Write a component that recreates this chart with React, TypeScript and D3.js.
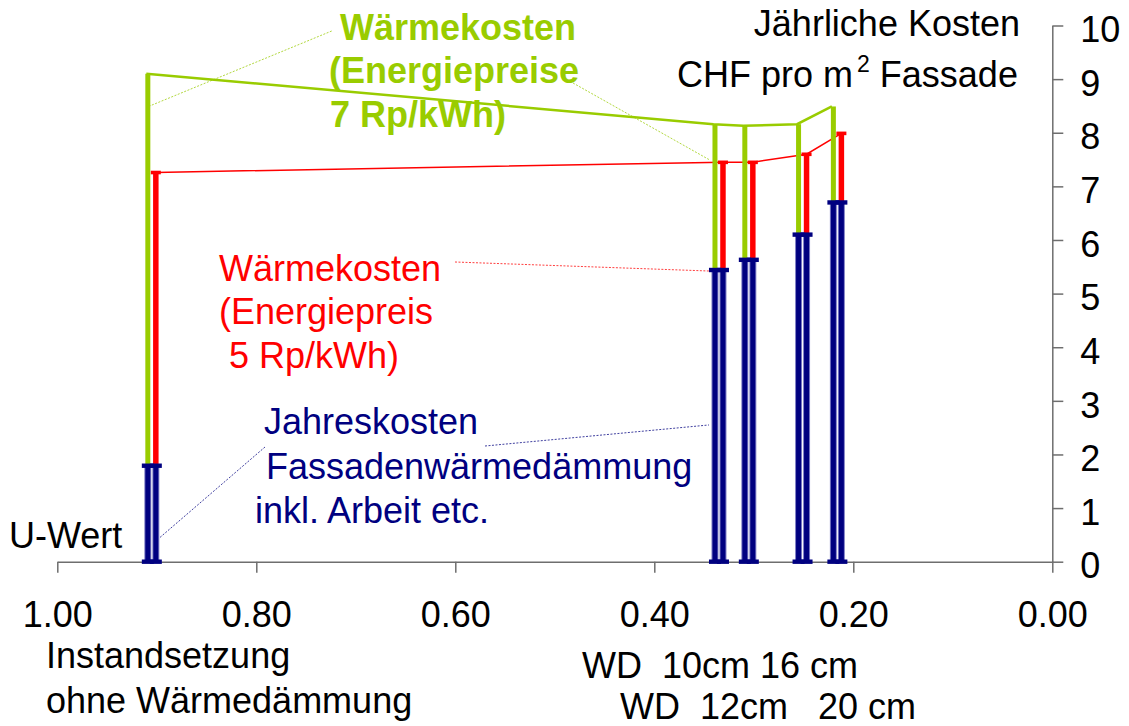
import React, { useEffect, useRef } from 'react';
import * as d3 from 'd3';

// U-Wert (W/m2K) der Varianten
const uValues = [0.905, 0.335, 0.305, 0.251, 0.216];
// Jahreskosten Fassadenwärmedämmung (CHF/m2)
const insulationCost = [1.79, 5.44, 5.63, 6.1, 6.7];
// Gesamtkosten inkl. Wärmekosten 5 Rp/kWh
const total5Rp = [7.26, 7.45, 7.45, 7.6, 7.99];
// Gesamtkosten inkl. Wärmekosten 7 Rp/kWh
const total7Rp = [9.1, 8.16, 8.13, 8.16, 8.49];

const xTicks = [1, 0.8, 0.6, 0.4, 0.2, 0];
const yTicks = [0, 1, 2, 3, 4, 5, 6, 7, 8, 9, 10];

const WIDTH = 1129;
const HEIGHT = 726;
const FONT = '"Liberation Sans", Arial, sans-serif';
const GREEN = '#99CC00';
const RED = '#FF0000';
const NAVY = '#000080';
const AXIS = '#6e6e6e';
const NB = '\u00A0';

const App: React.FC = () => {
  const chartRef = useRef<SVGGElement>(null);

  useEffect(() => {
    if (!chartRef.current) return;
    const svg = d3.select(chartRef.current);
    svg.selectAll('*').remove();

    const x = d3.scaleLinear().domain([1, 0]).range([57.3, 1052.3]);
    const y = d3.scaleLinear().domain([0, 10]).range([561.7, 25.5]);

    // axes
    const xAxis = svg.append('g')
      .attr('transform', `translate(0, ${y(0)})`)
      .call(d3.axisBottom(x).tickValues(xTicks).tickSize(11).tickSizeOuter(0).tickFormat(d3.format('.2f')));
    xAxis.select('.domain').attr('stroke', AXIS).attr('stroke-width', 1.5);
    xAxis.selectAll('.tick line').attr('stroke', AXIS).attr('stroke-width', 1.5);
    xAxis.selectAll('.tick text')
      .attr('y', 65.6)
      .attr('dy', 0)
      .attr('fill', '#000')
      .attr('font-size', 36)
      .attr('font-family', FONT);

    const yAxis = svg.append('g')
      .attr('transform', `translate(${x(0)}, 0)`)
      .call(d3.axisRight(y).tickValues(yTicks).tickSize(11).tickSizeOuter(0).tickFormat(d3.format('d')));
    yAxis.select('.domain').attr('stroke', AXIS).attr('stroke-width', 1.5);
    yAxis.selectAll('.tick line').attr('stroke', AXIS).attr('stroke-width', 1.5);
    yAxis.selectAll('.tick text')
      .attr('x', 28)
      .attr('dy', '0.45em')
      .attr('text-anchor', 'start')
      .attr('fill', '#000')
      .attr('font-size', 36)
      .attr('font-family', FONT);
    svg.selectAll('.tick text').style('font-family', FONT);

    const gX = (i: number) => x(uValues[i]) - 4;
    const rX = (i: number) => x(uValues[i]) + 4;

    // leader lines (dotted)
    const leaders: [number, number, number, number, string][] = [
      [331.7, 31, gX(0) + 2, y(8.5), GREEN],
      [573, 83, gX(1) - 6, y(7.5), GREEN],
      [455, 262, gX(1) - 6, y(insulationCost[1]) + 1, RED],
      [265, 447, rX(0) + 4, y(0.45), NAVY],
      [485, 446, gX(1) - 6, y(2.55), NAVY],
    ];
    svg.append('g').selectAll('line').data(leaders).enter().append('line')
      .attr('x1', d => d[0]).attr('y1', d => d[1])
      .attr('x2', d => d[2]).attr('y2', d => d[3])
      .attr('stroke', d => d[4])
      .attr('stroke-width', 1)
      .attr('stroke-dasharray', '2,1.5')
      .attr('opacity', 0.75);

    const idx = d3.range(uValues.length);

    // connecting lines
    svg.append('path')
      .attr('d', d3.line<number>().x(i => gX(i) - 1.5).y(i => y(total7Rp[i]))(idx) || '')
      .attr('fill', 'none').attr('stroke', GREEN).attr('stroke-width', 2.5);
    svg.append('path')
      .attr('d', d3.line<number>().x(i => rX(i)).y(i => y(total5Rp[i]))(idx) || '')
      .attr('fill', 'none').attr('stroke', RED).attr('stroke-width', 1.5);

    const bars = svg.append('g');
    idx.forEach(i => {
      const yb = y(insulationCost[i]);
      // green (7 Rp) on the left
      bars.append('line')
        .attr('x1', gX(i)).attr('x2', gX(i))
        .attr('y1', yb).attr('y2', y(total7Rp[i]))
        .attr('stroke', GREEN).attr('stroke-width', 5);
      // red (5 Rp) on the right
      bars.append('line')
        .attr('x1', rX(i)).attr('x2', rX(i))
        .attr('y1', yb).attr('y2', y(total5Rp[i]))
        .attr('stroke', RED).attr('stroke-width', 5.5);
      bars.append('rect')
        .attr('x', rX(i) - 5).attr('y', y(total5Rp[i]) - 1.7)
        .attr('width', 10).attr('height', 3.6)
        .attr('fill', RED);
      // insulation cost (both)
      [gX(i), rX(i)].forEach(bx => {
        bars.append('line')
          .attr('x1', bx).attr('x2', bx)
          .attr('y1', y(0)).attr('y2', yb)
          .attr('stroke', '#7c7cc4').attr('stroke-width', 7);
        bars.append('line')
          .attr('x1', bx).attr('x2', bx)
          .attr('y1', y(0)).attr('y2', yb)
          .attr('stroke', NAVY).attr('stroke-width', 5);
      });
      [gX(i), rX(i)].forEach(bx => {
        [y(0), yb].forEach(cy => {
          bars.append('rect')
            .attr('x', bx - 6).attr('y', cy - 2.2)
            .attr('width', 12).attr('height', 4.4)
            .attr('fill', NAVY);
        });
      });
    });
  }, []);

  const txt = { fontFamily: FONT, fontSize: 36 };

  return (
    <svg
      width={WIDTH}
      height={HEIGHT}
      style={{ position: 'absolute', left: 0, top: 0, background: '#fff' }}
    >
      <g ref={chartRef} />
      <g style={txt}>
        <text x={340} y={40} fill={GREEN} fontWeight="bold">Wärmekosten</text>
        <text x={329} y={83} fill={GREEN} fontWeight="bold">(Energiepreise</text>
        <text x={330} y={126.7} fill={GREEN} fontWeight="bold">7 Rp/kWh)</text>

        <text x={1020} y={36} textAnchor="end" fill="#000">Jährliche Kosten</text>
        <text x={677} y={87.3} fill="#000">
          CHF pro m<tspan fontSize={23} dx={4} dy={-15}>2</tspan><tspan dy={15}>{NB}Fassade</tspan>
        </text>

        <text x={219} y={280.7} fill={RED}>Wärmekosten</text>
        <text x={219} y={324} fill={RED}>(Energiepreis</text>
        <text x={219} y={368.3} fill={RED}>{NB}5 Rp/kWh)</text>

        <text x={264} y={434.3} fill={NAVY}>Jahreskosten</text>
        <text x={266} y={479.3} fill={NAVY}>Fassadenwärmedämmung</text>
        <text x={255} y={523.3} fill={NAVY}>inkl. Arbeit etc.</text>

        <text x={9} y={548.3} fill="#000">U-Wert</text>

        <text x={46} y={668.3} fill="#000">Instandsetzung</text>
        <text x={46} y={712.7} fill="#000">ohne Wärmedämmung</text>
        <text x={582} y={678.3} fill="#000">{`WD${NB} 10cm 16 cm`}</text>
        <text x={620} y={719} fill="#000">{`WD${NB} 12cm${NB}${NB} 20 cm`}</text>
      </g>
    </svg>
  );
};

export default App;
